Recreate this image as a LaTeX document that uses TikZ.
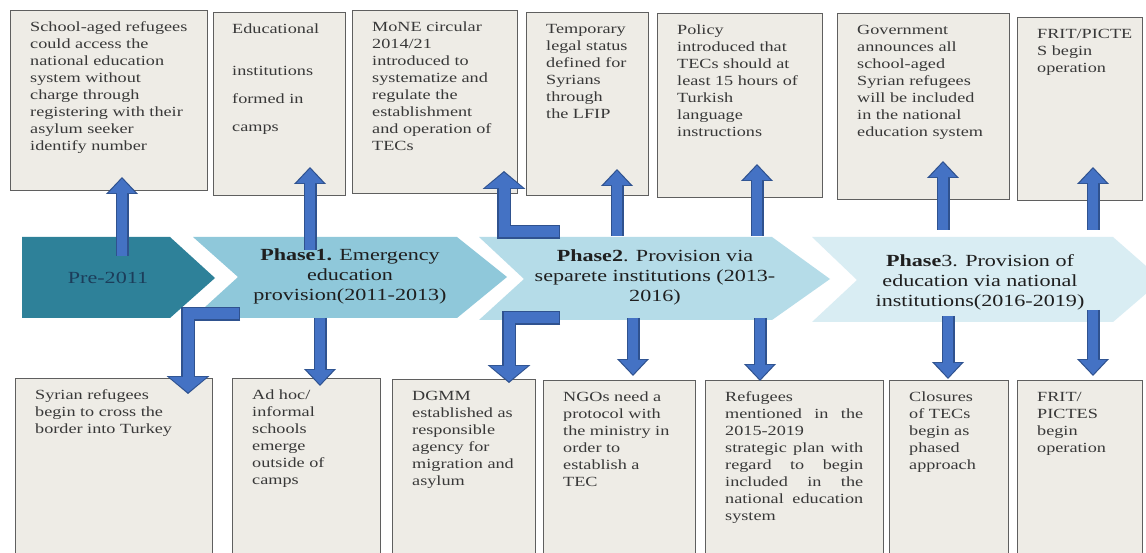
\documentclass[tikz,border=0pt]{standalone}
\usepackage{fontspec}
\setmainfont[FakeStretch=1.3]{Liberation Serif}
\usetikzlibrary{arrows.meta,calc}
\definecolor{boxfill}{HTML}{EEECE6}
\definecolor{boxline}{HTML}{5F5F5F}
\definecolor{boxlinel}{HTML}{8C8C8C}
\definecolor{txtc}{HTML}{383838}
\definecolor{cz}{HTML}{2E8199}
\definecolor{ca}{HTML}{8FC8DA}
\definecolor{cb}{HTML}{B5DCE8}
\definecolor{cc}{HTML}{D9EDF3}
\definecolor{prec}{HTML}{1C3D5A}
\definecolor{arrfill}{HTML}{4472C4}
\definecolor{arrline}{HTML}{2F528F}
\tikzset{
  evbox/.style={draw=boxline, fill=boxfill, line width=1.3pt, inner sep=0pt, anchor=north west},
  evtext/.style={inner sep=0pt, anchor=north west, align=left, text=txtc, font=\fontsize{14}{17}\selectfont},
  phasetext/.style={align=center, inner sep=0pt, font=\fontsize{17}{20}\selectfont, text=black!88},
  sout/.style={line width=13pt, draw=arrline, line join=miter, -{Triangle[width=31pt,length=17pt]}},
  sin/.style={line width=10pt, draw=arrfill, line join=miter, -{Triangle[width=26pt,length=14.5pt]}, shorten >=1.6pt},
  lout/.style={line width=14pt, draw=arrline, line join=miter, -{Triangle[width=42pt,length=18pt]}},
  lin/.style={line width=11pt, draw=arrfill, line join=miter, -{Triangle[width=37pt,length=15.5pt]}, shorten >=1.6pt},
}
% name, x1, y1, x2, y2, text
\newcommand\evb[6]{%
  \node[evbox, minimum width={(#4-#2)*1pt}, minimum height={(#5-#3)*1pt}] (#1) at (#2,#3) {};
  \node[evtext] (#1t) at ([xshift=20pt,yshift=-9pt]#1.north west) {\strut #6};
}
\begin{document}
\begin{tikzpicture}[x=1pt,y=-1pt]
\clip (0,0) rectangle (1146,553);
\fill[white] (0,0) rectangle (1146,553);

% chevrons
\fill[cz] (22,237) -- (170,237) -- (215,278) -- (170,318) -- (22,318) -- cycle;
\fill[ca] (193,237) -- (457,237) -- (507,277) -- (457,318) -- (193,318) -- (238,277) -- cycle;
\fill[cb] (479,237) -- (772,237) -- (830,279) -- (772,320) -- (479,320) -- (524,279) -- cycle;
\fill[cc] (812,237) -- (1113,237) -- (1162,280) -- (1113,322) -- (812,322) -- (857,280) -- cycle;

% top boxes
\evb{t1}{10}{10}{207}{190}{School-aged refugees\\could access the\\national education\\system without\\charge through\\registering with their\\asylum seeker\\identify number}
\node[evbox, minimum width=132pt, minimum height=183pt] (t2) at (213,12) {};
\node[evtext] (t2t) at ([xshift=19pt,yshift=-9pt]t2.north west) {\strut Educational\\[25pt]institutions\\[11pt]formed in\\[11pt]camps};
\evb{t3}{352}{10}{517}{193}{MoNE circular\\2014/21\\introduced to\\systematize and\\regulate the\\establishment\\and operation of\\TECs}
\evb{t4}{526}{12}{648}{195}{Temporary\\legal status\\defined for\\Syrians\\through\\the LFIP}
\evb{t5}{657}{13}{822}{197}{Policy\\introduced that\\TECs should at\\least 15 hours of\\Turkish\\language\\instructions}
\evb{t6}{837}{13}{1009}{199}{Government\\announces all\\school-aged\\Syrian refugees\\will be included\\in the national\\education system}
\evb{t7}{1017}{17}{1142}{200}{FRIT/PICTE\\S begin\\operation}

% bottom boxes
\evb{b1}{15}{378}{212}{560}{Syrian refugees\\begin to cross the\\border into Turkey}
\evb{b2}{232}{378}{380}{560}{Ad hoc/\\informal\\schools\\emerge\\outside of\\camps}
\evb{b3}{392}{379}{535}{560}{DGMM\\established as\\responsible\\agency for\\migration and\\asylum}
\evb{b4}{543}{380}{695}{560}{NGOs need a\\protocol with\\the ministry in\\order to\\establish a\\TEC}
\node[evbox, minimum width=178pt, minimum height=180pt] (b5) at (705,380) {};
\node[evtext, text width=138pt, align=justify] (b5t) at ([xshift=20pt,yshift=-9pt]b5.north west) {\strut Refugees\newline mentioned in the\linebreak 2015-2019\newline strategic plan with\linebreak regard to begin\linebreak included in the\linebreak national education\linebreak system};
\evb{b6}{889}{380}{1008}{560}{Closures\\of TECs\\begin as\\phased\\approach}
\evb{b7}{1017}{380}{1142}{560}{FRIT/\\PICTES\\begin\\operation}

% arrow end points
\coordinate (u1a) at (122,256); \coordinate (u1b) at (122,177);
\coordinate (u2a) at (310,250); \coordinate (u2b) at (310,167);
\coordinate (u3a) at (560,232); \coordinate (u3c) at (504,232); \coordinate (u3b) at (504,171);
\coordinate (u4a) at (617,236); \coordinate (u4b) at (617,169);
\coordinate (u5a) at (757,236); \coordinate (u5b) at (757,164);
\coordinate (u6a) at (943,230); \coordinate (u6b) at (943,161);
\coordinate (u7a) at (1093,230); \coordinate (u7b) at (1093,167);
\coordinate (d1a) at (240,314); \coordinate (d1c) at (188,314); \coordinate (d1b) at (188,394);
\coordinate (d2a) at (320,318); \coordinate (d2b) at (320,386);
\coordinate (d3a) at (560,318); \coordinate (d3c) at (509,318); \coordinate (d3b) at (509,383);
\coordinate (d4a) at (633,318); \coordinate (d4b) at (633,376);
\coordinate (d5a) at (760,318); \coordinate (d5b) at (760,381);
\coordinate (d6a) at (948,316); \coordinate (d6b) at (948,379);
\coordinate (d7a) at (1093,310); \coordinate (d7b) at (1093,376);

% straight arrows
\foreach \p in {u1,u2,u4,u5,u6,u7,d2,d4,d5,d6,d7}{
  \draw[sout] (\p a) -- (\p b);
  \draw[sin] (\p a) -- (\p b);
}
% L-shaped arrows
\foreach \p in {u3,d1,d3}{
  \draw[lout] (\p a) -- (\p c) -- (\p b);
  \draw[lin] ([xshift=-1.5pt]\p a) -- (\p c) -- (\p b);
}

% phase labels
\node[phasetext, text=prec] (p0) at (108,278) {Pre-2011};
\node[phasetext] (p1) at (350,276) {\textbf{Phase1.} Emergency\\education\\provision(2011-2013)};
\node[phasetext] (p2) at (655,277) {\textbf{Phase2}. Provision via\\separete institutions (2013-\\2016)};
\node[phasetext] (p3) at (980,282) {\textbf{Phase}3. Provision of\\education via national\\institutions(2016-2019)};
\end{tikzpicture}
\end{document}
